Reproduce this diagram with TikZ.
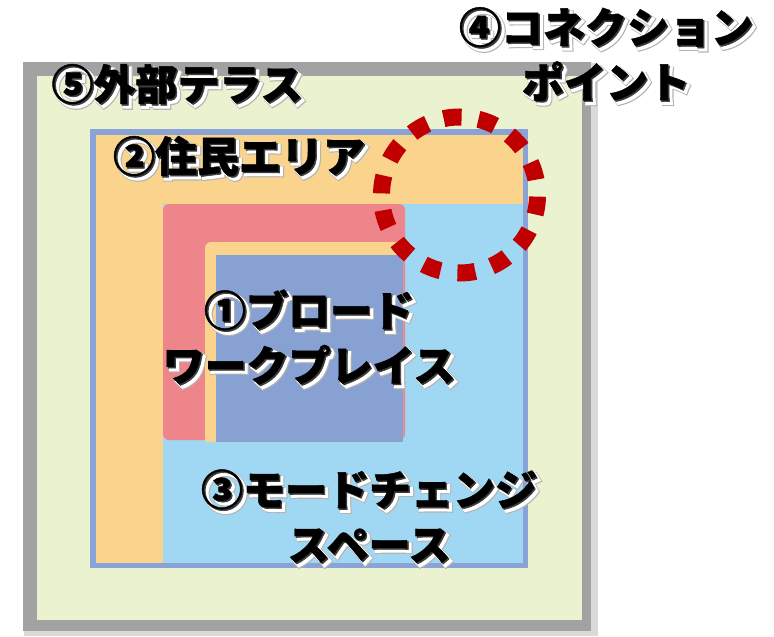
\documentclass[tikz,border=0pt]{standalone}
\usepackage{fontspec}
\newfontfamily\jp{Noto Sans CJK JP}
\definecolor{framegray}{HTML}{A2A2A2}
\definecolor{frameblur}{HTML}{DADADA}
\definecolor{terrace}{HTML}{EBF2D0}
\definecolor{resid}{HTML}{FAD38C}
\definecolor{borderblue}{HTML}{8AA3D6}
\definecolor{modeblue}{HTML}{A0D8F4}
\definecolor{pinkband}{HTML}{EE858A}
\definecolor{workblue}{HTML}{88A1D3}
\definecolor{conred}{HTML}{C00000}
\definecolor{hedge}{HTML}{B4B4B4}
\definecolor{dkedge}{HTML}{3A3A3A}
\newcommand\shdlay[4]{\makebox[0pt][l]{\hspace*{#1}\raisebox{#2}{\addfontfeature{FakeBold=#4}\color{#3}\shdtext}}}
\newcommand\shd[1]{\def\shdtext{#1}%
  \shdlay{4pt}{-4pt}{hedge}{9}%
  \shdlay{3.5pt}{-3.5pt}{white}{6}%
  \shdlay{1.4pt}{-1.4pt}{dkedge}{1.5}%
  {\addfontfeature{FakeBold=1}\textcolor{black}{#1}}}
\tikzset{
  lbl/.style={inner sep=0pt, align=center, font=\jp\bfseries\fontsize{42}{55}\selectfont}
}
\begin{document}
\begin{tikzpicture}[x=1pt,y=-1pt]
\useasboundingbox (0,0) rectangle (774,637);
% outer terrace frame
\fill[frameblur] (24,63) rectangle (598,636);
\fill[framegray] (23,62) rectangle (591,631);
\fill[terrace] (37,76) rectangle (582,620);
% resident area with blue border
\fill[borderblue] (90,129) rectangle (528,568);
\fill[resid] (96,135) rectangle (523,563);
% mode change space
\fill[modeblue] (163,204) rectangle (523,563);
% pink band
\fill[pinkband, rounded corners=6pt] (163,204) rectangle (405,440);
% inner orange
\fill[resid, rounded corners=6pt] (205,242) -- (403,242) [sharp corners] -- (403,442) -- (205,442) [rounded corners=6pt] -- cycle;
% broad workplace
\fill[workblue] (216,255) rectangle (403,442);
% connection point
\draw[conred, line width=17pt, dash pattern=on 18pt off 17.007pt, dash phase=33.4pt] (459.5,195) circle[radius=78];
% labels
\node[lbl] (terr) at (177,86) {\shd{⑤外部テラス}};
\node[lbl] (res) at (239,158) {\shd{②住民エリア}};
\node[lbl] (con) at (606,56) {\shd{④コネクション}\\\shd{ポイント}};
\node[lbl] (work) at (309,339) {\shd{①ブロード}\\\shd{ワークプレイス}};
\node[lbl] (mode) at (369,518) {\shd{③モードチェンジ}\\\shd{スペース}};
\end{tikzpicture}
\end{document}
